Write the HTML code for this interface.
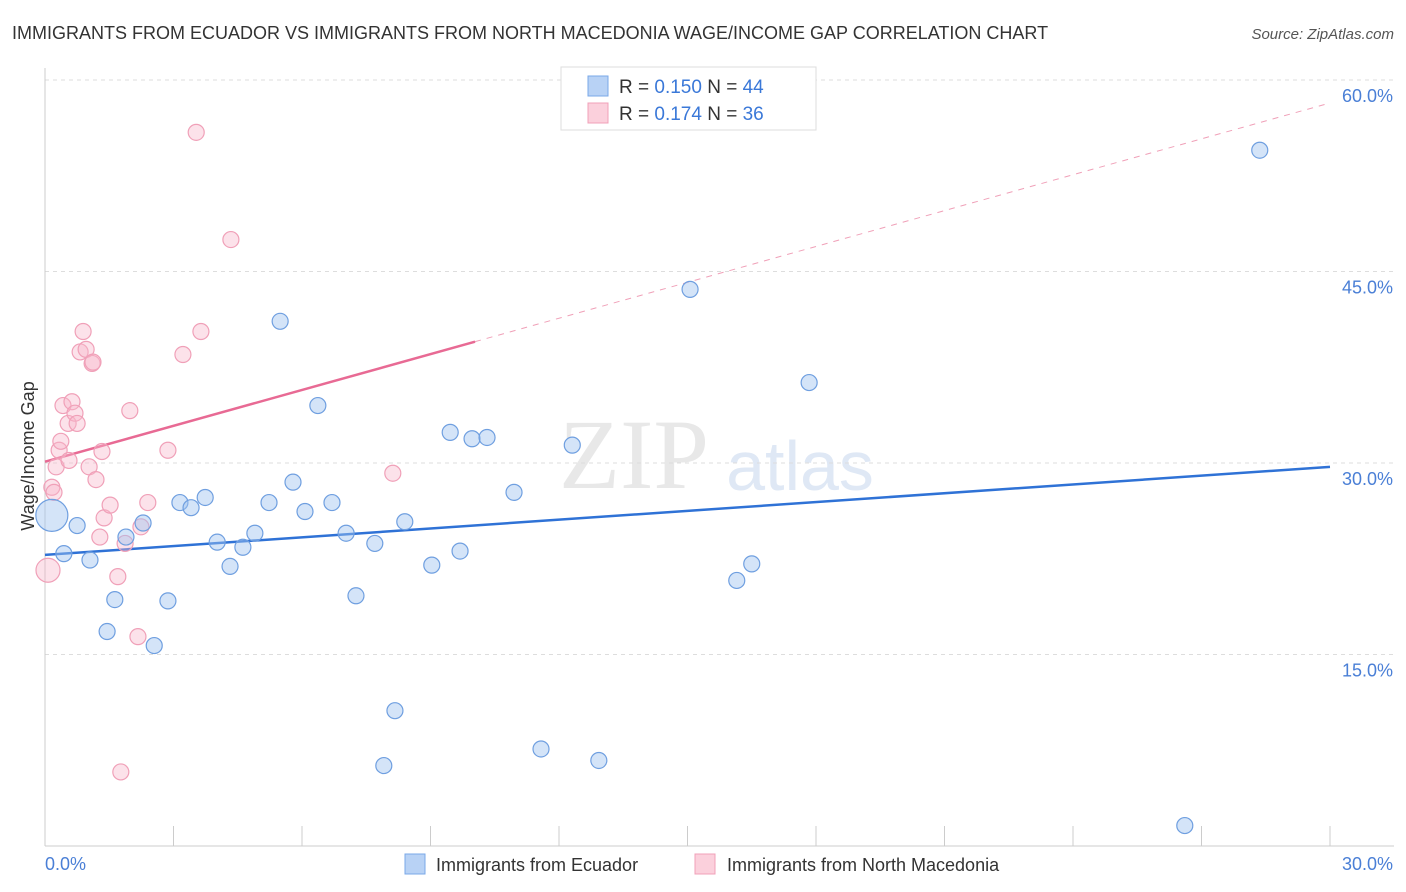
<!DOCTYPE html>
<html><head><meta charset="utf-8">
<style>
body{margin:0;background:#fff;font-family:"Liberation Sans",sans-serif;}
#wrap{position:relative;width:1406px;height:892px;overflow:hidden;}
</style></head>
<body>
<div id="wrap">
<svg id="svg" width="1406" height="892" xmlns="http://www.w3.org/2000/svg">
<text x="12" y="39" font-size="18" fill="#333">IMMIGRANTS FROM ECUADOR VS IMMIGRANTS FROM NORTH MACEDONIA WAGE/INCOME GAP CORRELATION CHART</text>
<text x="1394" y="39" font-size="15" fill="#555" text-anchor="end" font-style="italic">Source: ZipAtlas.com</text>
<text x="634" y="488" font-size="100" fill="#e8e8e8" text-anchor="middle" font-family="Liberation Serif,serif">ZIP</text>
<text x="800" y="490" font-size="70" fill="#dfe8f5" text-anchor="middle">atlas</text>
<text transform="translate(34,456) rotate(-90)" font-size="18" fill="#333" text-anchor="middle">Wage/Income Gap</text>
<g id="grid"></g><g id="axes"></g><g id="lines"></g><g id="pts"></g>
<g>
<rect x="561" y="67" width="255" height="63" fill="#fff" stroke="#ddd"/>
<rect x="588" y="76" width="20" height="20" fill="#b8d2f5" stroke="#7aa8e8"/>
<text x="619" y="93" font-size="19" fill="#333">R = <tspan fill="#3a78d8">0.150</tspan>   N = <tspan fill="#3a78d8">44</tspan></text>
<rect x="588" y="103" width="20" height="20" fill="#fbd0dc" stroke="#f0a0b8"/>
<text x="619" y="120" font-size="19" fill="#333">R =  <tspan fill="#3a78d8">0.174</tspan>   N =  <tspan fill="#3a78d8">36</tspan></text>
</g>
<g>
<rect x="405" y="854" width="20" height="20" fill="#b8d2f5" stroke="#7aa8e8"/>
<text x="436" y="871" font-size="18" fill="#333">Immigrants from Ecuador</text>
<rect x="695" y="854" width="20" height="20" fill="#fbd0dc" stroke="#f0a0b8"/>
<text x="727" y="871" font-size="18" fill="#333">Immigrants from North Macedonia</text>
</g>
</svg>
</div>
<script>
const blueX=[0.16,0.44,0.75,1.05,1.45,1.63,1.89,2.29,2.55,2.87,3.15,3.41,3.74,4.02,4.32,4.62,4.90,5.23,5.49,5.79,6.07,6.37,6.70,7.03,7.26,7.70,7.91,8.17,8.40,9.03,9.46,9.69,9.97,10.32,10.95,11.58,12.31,12.93,15.06,16.15,16.50,17.84,26.61,28.36];
const blueY=[25.9,22.9,25.1,22.4,16.8,19.3,24.2,25.3,15.7,19.2,26.9,26.5,27.3,23.8,21.9,23.4,24.5,26.9,41.1,28.5,26.2,34.5,26.9,24.5,19.6,23.7,6.3,10.6,25.4,22.0,32.4,23.1,31.9,32.0,27.7,7.6,31.4,6.7,43.6,20.8,22.1,36.3,1.6,54.5];
const pinkX=[0.07,0.16,0.21,0.26,0.33,0.37,0.42,0.54,0.56,0.63,0.70,0.75,0.82,0.89,0.96,1.03,1.10,1.12,1.19,1.28,1.33,1.38,1.52,1.70,1.77,1.87,1.98,2.17,2.24,2.40,2.87,3.22,3.53,3.64,4.34,8.12];
const pinkY=[21.6,28.1,27.7,29.7,31.0,31.7,34.5,33.1,30.2,34.8,33.9,33.1,38.7,40.3,38.9,29.7,37.8,37.9,28.7,24.2,30.9,25.7,26.7,21.1,5.8,23.7,34.1,16.4,25.0,26.9,31.0,38.5,55.9,40.3,47.5,29.2];
const yTicks=[15,30,45,60];
const yTickLabels=["15.0%","30.0%","45.0%","60.0%"];
const xTicks=[0,3,6,9,12,15,18,21,24,27,30];
const blueLine=[22.8,29.7];
const pinkLine=[30.1,58.2];
const pinkSolidEnd=10.04;

const NS="http://www.w3.org/2000/svg";
const X=v=>45+v/30*1285;
const Y=v=>846-v/15*191.5;
function mk(p,tag,at){const e=document.createElementNS(NS,tag);for(const k in at)e.setAttribute(k,at[k]);document.getElementById(p).appendChild(e);return e;}
yTicks.forEach((t,i)=>{
 const g=mk('grid','line',{x1:45,x2:1394,y1:Y(t),y2:Y(t),stroke:'#ddd','stroke-dasharray':'4,4'});
 
 
 const l=mk('axes','text',{x:1393,y:Y(t)+22,'font-size':18,fill:'#4a7fd6','text-anchor':'end'});
 l.textContent=yTickLabels[i];
 
 
});
const ax=mk('axes','line',{x1:45,x2:1394,y1:846,y2:846,stroke:'#ccc'});


const ay=mk('axes','line',{x1:45,x2:45,y1:68,y2:846,stroke:'#ccc'});


xTicks.forEach(t=>{
 const e=mk('axes','line',{x1:X(t),x2:X(t),y1:826,y2:846,stroke:'#ccc'});
 
 
});
const xl0=mk('axes','text',{x:45,y:870,'font-size':18,fill:'#4a7fd6'});xl0.textContent="0.0%";


const xl1=mk('axes','text',{x:1393,y:870,'font-size':18,fill:'#4a7fd6','text-anchor':'end'});xl1.textContent="30.0%";



const ps=pinkLine[0]+(pinkLine[1]-pinkLine[0])*pinkSolidEnd/30;
const pd=mk('lines','line',{x1:X(pinkSolidEnd),y1:Y(ps),x2:X(30),y2:Y(pinkLine[1]),stroke:'#f0a0b8','stroke-dasharray':'6,6','stroke-width':1});


const pl=mk('lines','line',{x1:X(0),y1:Y(pinkLine[0]),x2:X(pinkSolidEnd),y2:Y(ps),stroke:'#e86a94','stroke-width':2.5});


const bl=mk('lines','line',{x1:X(0),y1:Y(blueLine[0]),x2:X(30),y2:Y(blueLine[1]),stroke:'#2f72d6','stroke-width':2.5});



pinkX.forEach((x,i)=>{
 const c=mk('pts','circle',{cx:X(x),cy:Y(pinkY[i]),r:i===0?12:8,fill:'rgba(248,182,202,0.4)',stroke:'#f0a0b8','stroke-width':1.2});
 
 
});
blueX.forEach((x,i)=>{
 const c=mk('pts','circle',{cx:X(x),cy:Y(blueY[i]),r:i===0?16:8,fill:'rgba(160,196,240,0.45)',stroke:'#6f9fe0','stroke-width':1.2});
 
 
});
</script>
</body></html>
